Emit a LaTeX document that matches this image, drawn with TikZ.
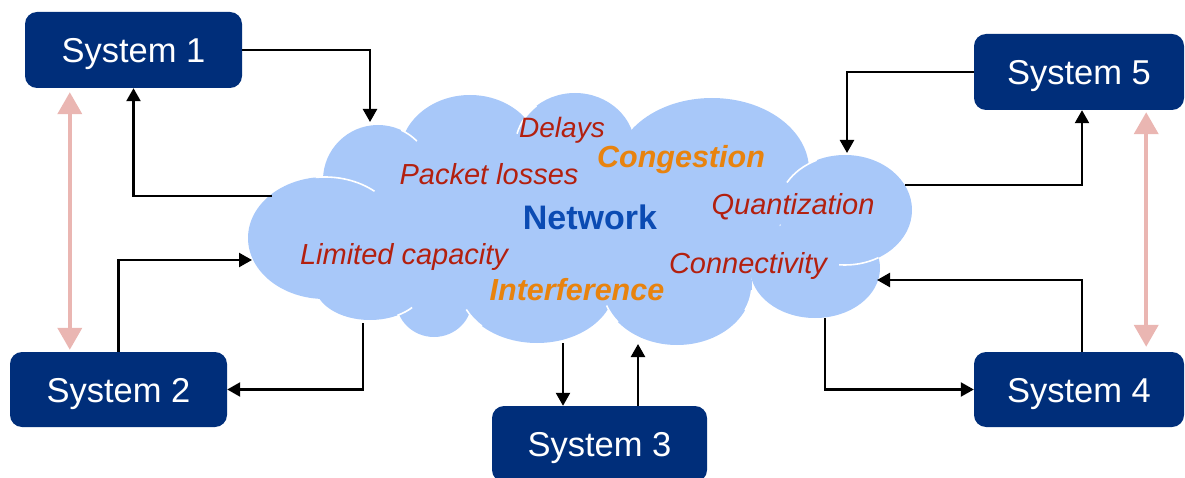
\documentclass[tikz,border=0pt]{standalone}
\usepackage{fontspec}
\setmainfont{Liberation Sans}
\usetikzlibrary{arrows.meta}
\definecolor{navy}{HTML}{002E7A}
\definecolor{cloudblue}{HTML}{A8C8F9}
\definecolor{pinkarr}{HTML}{EAB6B2}
\definecolor{issue}{HTML}{B3200F}
\definecolor{hot}{HTML}{E8830E}
\definecolor{netblue}{HTML}{0B4BB3}
\tikzset{
  sysbox/.style={fill=navy, rounded corners=12pt, inner sep=0pt, text=white,
    font=\fontsize{34.5}{40}\selectfont, text height=25pt, text depth=0pt},
  arr/.style={draw=black, line width=2.4pt, -{Triangle[length=13pt,width=14pt]}},
  pinkline/.style={draw=pinkarr, line width=4pt, {Triangle[length=22pt,width=24pt]}-{Triangle[length=22pt,width=24pt]}},
  lobe/.style={fill=cloudblue, draw=none},
  seam/.style={draw=white, line width=1.6pt},
  issuetxt/.style={anchor=base, inner sep=0pt, text=issue, font=\fontsize{29}{34}\selectfont\itshape},
  hottxt/.style={anchor=base, inner sep=0pt, text=hot, font=\fontsize{30.5}{36}\selectfont\bfseries\itshape},
}
\begin{document}
\begin{tikzpicture}[x=1pt,y=-1pt]
\useasboundingbox (0,0) rectangle (1185,478);
% cloud
\fill[lobe] (580,220) ellipse[x radius=200pt, y radius=90pt];
\fill[lobe] (325,238) ellipse[x radius=77pt, y radius=61pt];
\fill[lobe] (378,180) ellipse[x radius=55pt, y radius=55pt];
\fill[lobe] (470,155) ellipse[x radius=70pt, y radius=60pt];
\fill[lobe] (575,148) ellipse[x radius=60pt, y radius=55pt];
\fill[lobe] (712,170) ellipse[x radius=97pt, y radius=72pt];
\fill[lobe] (845,210) ellipse[x radius=67pt, y radius=55pt];
\fill[lobe] (815,268) ellipse[x radius=65pt, y radius=50pt];
\fill[lobe] (370,285) ellipse[x radius=55pt, y radius=35pt];
\fill[lobe] (434,300) ellipse[x radius=38pt, y radius=37pt];
\fill[lobe] (537,285) ellipse[x radius=78pt, y radius=58pt];
\fill[lobe] (677,285) ellipse[x radius=75pt, y radius=60pt];
% seams
\draw[seam] (325,238) ++(97:77pt and 61pt) arc[start angle=97, end angle=50, x radius=77pt, y radius=61pt];
\draw[seam] (378,180) ++(65:55pt and 55pt) arc[start angle=65, end angle=45, x radius=55pt, y radius=55pt];
\draw[seam] (575,148) ++(165:60pt and 55pt) arc[start angle=165, end angle=130, x radius=60pt, y radius=55pt];
\draw[seam] (845,210) ++(150:67pt and 55pt) arc[start angle=150, end angle=115, x radius=67pt, y radius=55pt];
\draw[seam] (370,285) ++(-60:55pt and 35pt) arc[start angle=-60, end angle=-40, x radius=55pt, y radius=35pt];
\draw[seam] (537,285) ++(205:78pt and 58pt) arc[start angle=205, end angle=225, x radius=78pt, y radius=58pt];
\draw[seam] (677,285) ++(200:75pt and 60pt) arc[start angle=200, end angle=218, x radius=75pt, y radius=60pt];
\draw[seam] (677,285) ++(-25:75pt and 60pt) arc[start angle=-25, end angle=-5, x radius=75pt, y radius=60pt];
\draw[seam] (845,210) ++(-95:67pt and 55pt) arc[start angle=-95, end angle=-60, x radius=67pt, y radius=55pt];
% cloud texts
\node[issuetxt, font=\fontsize{28}{34}\selectfont\itshape] (tdel) at (562,138) {Delays};
\node[hottxt] (tcon) at (681,168) {Congestion};
\node[issuetxt] (tpac) at (489,185) {Packet losses};
\node[anchor=base, inner sep=0pt, text=netblue, font=\fontsize{34}{40}\selectfont\bfseries] (tnet) at (590,230) {Network};
\node[issuetxt] (tqua) at (793,215) {Quantization};
\node[issuetxt] (tlim) at (404,265) {Limited capacity};
\node[issuetxt] (tcnn) at (748,273) {Connectivity};
\node[hottxt] (tint) at (577,300) {Interference};
% systems
\node[sysbox, minimum width=217pt, minimum height=76pt] (s1) at (133.5,50) {System 1};
\node[sysbox, minimum width=217pt, minimum height=75pt] (s2) at (118.5,389.5) {System 2};
\node[sysbox, minimum width=215pt, minimum height=76pt] (s3) at (599.5,444) {System 3};
\node[sysbox, minimum width=210pt, minimum height=75pt] (s4) at (1079,389.5) {System 4};
\node[sysbox, minimum width=210pt, minimum height=76pt] (s5) at (1079,72) {System 5};
% cloud ports
\coordinate (c1) at (370,122);
\coordinate (c2) at (272,196);
\coordinate (c3) at (252,260);
\coordinate (c4) at (363,323);
\coordinate (c5) at (563,343);
\coordinate (c6) at (638,344);
\coordinate (c7) at (877,280);
\coordinate (c8) at (825,318);
\coordinate (c9) at (847,153);
\coordinate (c10) at (905,185);
% black connectors
\draw[arr] (s1.east) -| (c1);
\draw[arr] (c2) -| (s1.south);
\draw[arr] (s2.north) |- (c3);
\draw[arr] (c4) |- (s2.east);
\draw[arr] (c5) -- (c5 |- s3.north);
\draw[arr] (c6 |- s3.north) -- (c6);
\draw[arr] ([xshift=3pt]s4.north) |- (c7);
\draw[arr] (c8) |- (s4.west);
\draw[arr] (s5.west) -| (c9);
\draw[arr] (c10) -| ([xshift=3pt]s5.south);
% pink links
\draw[pinkline, shorten <=4pt, shorten >=2pt] ([xshift=45pt]s1.south west) -- ([xshift=60pt]s2.north west);
\draw[pinkline, shorten <=2pt, shorten >=5pt] ([xshift=-38pt]s5.south east) -- ([xshift=-38pt]s4.north east);
\end{tikzpicture}
\end{document}
